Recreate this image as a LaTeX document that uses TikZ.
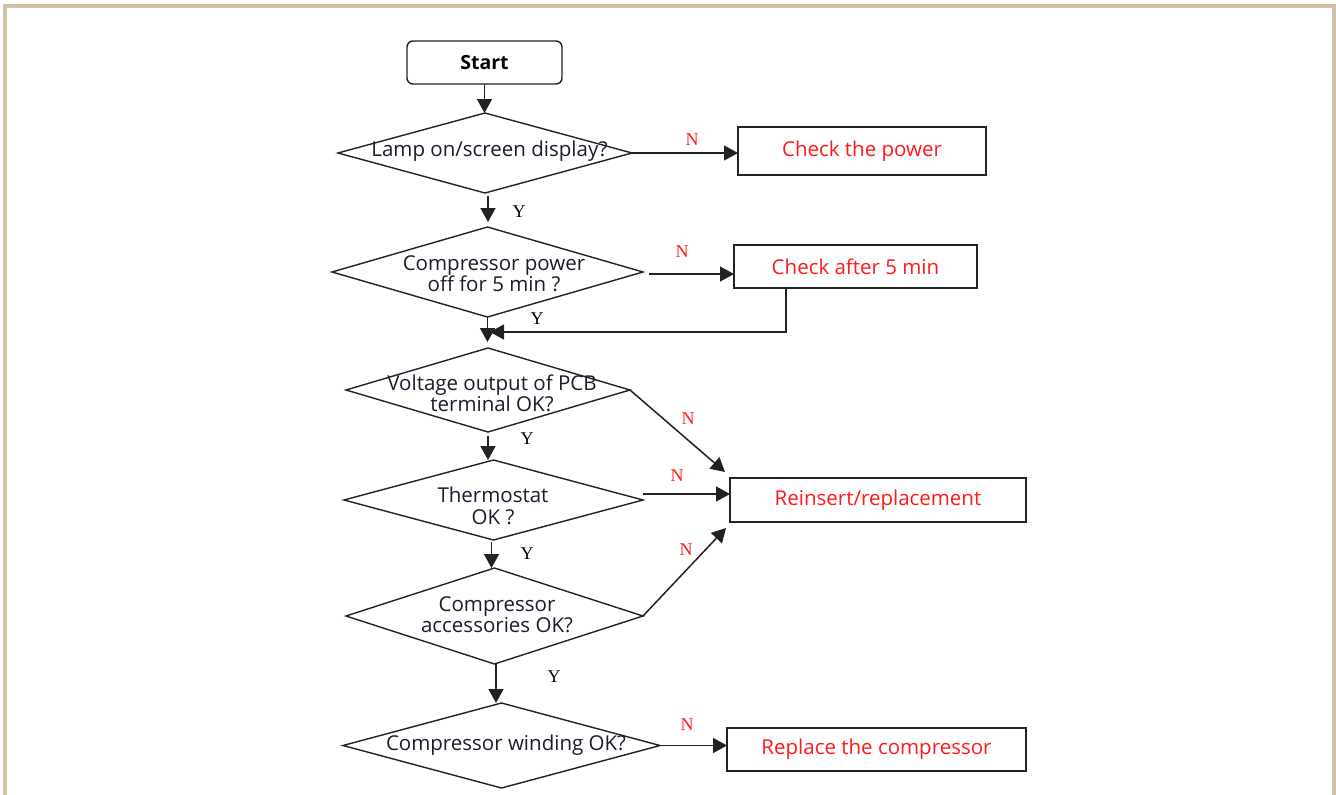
\documentclass[tikz,border=0pt]{standalone}
\usepackage{fontspec}
\setmainfont{Open Sans}
\newfontfamily\ynfont{Liberation Serif}
\usetikzlibrary{arrows.meta,shapes.geometric}
\definecolor{framec}{HTML}{D2C2A8}
\definecolor{linec}{HTML}{222222}
\definecolor{txtc}{HTML}{1C1C2E}
\definecolor{redc}{HTML}{FF1A1A}
\begin{document}
\begin{tikzpicture}[x=1pt,y=-1pt,
  every node/.style={inner sep=0pt, outer sep=0pt},
  dia/.style={shape=diamond, draw=linec, line width=1.4pt, inner sep=0pt},
  qtext/.style={text=txtc, align=center, font=\fontsize{20.5}{21.5}\selectfont},
  rbox/.style={draw=linec, line width=1.4pt, text=redc, font=\fontsize{20.5}{21.5}\selectfont},
  flow/.style={draw=linec, line width=1.5pt, -{Triangle[length=14pt,width=15pt]}},
  ylab/.style={font=\ynfont\fontsize{18}{18}\selectfont, text=black},
  nlab/.style={font=\ynfont\fontsize{18}{18}\selectfont, text=redc}]

% page and frame
\fill[white] (0,0) rectangle (1336,795);
\useasboundingbox (0,0) rectangle (1336,795);
\fill[framec] (3,4) rectangle (1336,8);
\fill[framec] (3,4) rectangle (7,795);
\fill[framec] (1332,4) rectangle (1336,795);

% start
\node[draw=linec, line width=1.4pt, rounded corners=6pt, minimum width=155pt, minimum height=43pt,
      font=\bfseries\fontsize{19.5}{21}\selectfont] (start) at (484.5,62.5) {Start};

% decision diamonds
\node[dia, minimum width=294pt, minimum height=80pt] (d1) at (485,153) {};
\node[dia, minimum width=311pt, minimum height=90pt] (d2) at (487.5,272) {};
\node[dia, minimum width=284pt, minimum height=84pt] (d3) at (488,390) {};
\node[dia, minimum width=299pt, minimum height=80pt] (d4) at (493.5,500) {};
\node[dia, minimum width=297pt, minimum height=96pt] (d5) at (494.5,616) {};
\node[dia, minimum width=317pt, minimum height=85pt] (d6) at (501.5,745.5) {};

\node[qtext] (t1) at (489.5,151) {Lamp on/screen display?};
\node[qtext] (t2) at (494,273.5) {Compressor power\\off for 5 min ?};
\node[qtext] (t3) at (492,393.5) {Voltage output of PCB\\terminal OK?};
\node[qtext] (t4) at (493,506) {Thermostat\\OK ?};
\node[qtext] (t5) at (497,614.5) {Compressor\\accessories OK?};
\node[qtext] (t6) at (506,745) {Compressor winding OK?};

% action boxes
\node[rbox, minimum width=248pt, minimum height=48pt] (b1) at (862,151) {Check the power};
\node[rbox, minimum width=243pt, minimum height=43pt] (b2) at (855.5,266.5) {Check after 5 min};
\node[rbox, minimum width=296pt, minimum height=44pt] (b3) at (878,500) {Reinsert/replacement};
\node[rbox, minimum width=299pt, minimum height=43pt] (b4) at (876.5,749.5) {Replace the compressor};

\coordinate (m) at (490,332);

% main flow, straight down from each diamond
\draw[flow] (start.south) -- (start.south |- d1.north);
\draw[flow, shorten <=3pt, shorten >=5pt] ([xshift=3pt]d1.south) -- ([xshift=3pt]d1.south |- d2.north);
\draw[flow, shorten >=6pt] (d2.south) -- (d2.south |- d3.north);
\draw[flow, shorten <=4pt] (d3.south) -- (d3.south |- d4.north);
\draw[flow, shorten <=2pt] ([xshift=-2pt]d4.south) -- ([xshift=-2pt]d4.south |- d5.north);
\draw[flow] ([xshift=1.5pt]d5.south) -- ([xshift=1.5pt]d5.south |- d6.north);

% branches
\draw[flow] (d1.east) -- (d1.east -| b1.west);
\draw[flow, shorten <=6pt] ([yshift=-2pt]d2.east) -- ([yshift=-2pt]d2.east -| b2.west);
\draw[flow] ([xshift=52pt]b2.south west) |- (m);
\draw[flow] (d3.east) -- ([shift={(-5,-6)}]b3.north west);
\draw[flow] ([shift={(0,-6)}]d4.east) -- ([shift={(0,-6)}]b3.west);
\draw[flow] (d5.east) -- ([shift={(-4,6)}]b3.south west);
\draw[flow] (d6.east) -- (d6.east -| b4.west);

% branch labels
\node[nlab] (n1) at (692,140) {N};
\node[ylab] (y1) at (519,212) {Y};
\node[nlab] (n2) at (682,252) {N};
\node[ylab] (y2) at (537,319) {Y};
\node[nlab] (n3) at (688,419) {N};
\node[ylab] (y3) at (527,439) {Y};
\node[nlab] (n4) at (677,476) {N};
\node[ylab] (y4) at (527,554) {Y};
\node[nlab] (n5) at (686,550) {N};
\node[ylab] (y5) at (554,677) {Y};
\node[nlab] (n6) at (687,725) {N};
\end{tikzpicture}
\end{document}
